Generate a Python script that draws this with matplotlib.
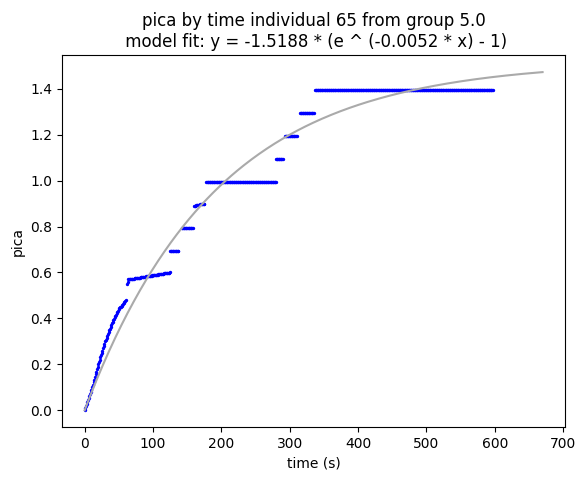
import numpy as np
import matplotlib.pyplot as plt

# (start, end, value_start, value_end) of each recorded stretch
seg_start = [0, 62, 65, 125, 142, 160, 178, 280, 293, 315, 337]
seg_end = [60, 64, 125, 137, 158, 175, 280, 290, 310, 335, 597]
seg_v0 = [0.0, 0.55, 0.57, 0.695, 0.795, 0.89, 0.995, 1.095, 1.195, 1.295, 1.395]
seg_v1 = [0.48, 0.57, 0.60, 0.695, 0.795, 0.90, 0.995, 1.095, 1.195, 1.295, 1.395]

# early rise readings
rise_t = [0, 10, 20, 30, 40, 50, 58, 60]
rise_v = [0.0, 0.09, 0.20, 0.30, 0.38, 0.44, 0.47, 0.48]

a, b = -1.5188, -0.0052

ts, vs = [], []
for i in range(len(seg_start)):
    t = np.arange(seg_start[i], seg_end[i] + 0.01, 1.0)
    if i == 0:
        v = np.interp(t, rise_t, rise_v)
    else:
        v = np.interp(t, [seg_start[i], seg_end[i]], [seg_v0[i], seg_v1[i]])
    ts.append(t)
    vs.append(v)
ts = np.concatenate(ts)
vs = np.concatenate(vs)

fig, ax = plt.subplots(figsize=(5.77, 4.8), dpi=100)
xf = np.linspace(0, 670, 300)
ax.plot(xf, a * (np.exp(b * xf) - 1), color="#aaaaaa")
ax.scatter(ts, vs, s=2, color="blue")
ax.set_xlabel("time (s)")
ax.set_ylabel("pica")
ax.set_title("pica by time individual 65 from group 5.0\n model fit: y = -1.5188 * (e ^ (-0.0052 * x) - 1)")
ax.set_xticks(range(0, 701, 100))
plt.subplots_adjust(left=0.107, right=0.98, top=0.885, bottom=0.11)
plt.savefig("out.png")
